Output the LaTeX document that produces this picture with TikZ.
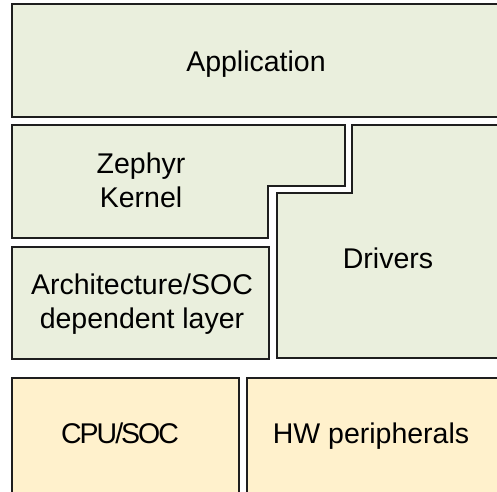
\documentclass[tikz,border=0pt]{standalone}
\usepackage{fontspec}
\setmainfont{Liberation Sans}
\definecolor{greenfill}{HTML}{EAEFDD}
\definecolor{yellowfill}{HTML}{FFF1CC}
\definecolor{edge}{HTML}{1E1E1E}
\tikzset{
  layer/.style={draw=edge, line width=1.6pt, fill=greenfill, line join=miter},
  hwlayer/.style={draw=edge, line width=1.6pt, fill=yellowfill},
  lbl/.style={font=\fontsize{28.5}{34}\selectfont, align=center, inner sep=0pt, anchor=base}
}
\begin{document}
\begin{tikzpicture}[x=1pt,y=-1pt]
\useasboundingbox (0,0) rectangle (497,491);
\clip (0,0) rectangle (497,491);
\fill[white] (0,0) rectangle (497,491);
% Application
\draw[layer] (12,4) rectangle (510,117);
\node[lbl] (app) at (256,71) {Application};
% Zephyr kernel
\draw[layer] (12,125) -- (345,125) -- (345,186) -- (268,186) -- (268,238) -- (12,238) -- cycle;
\node[lbl] (kern) at (141,207) {Zephyr\\Kernel};
% Drivers
\draw[layer] (352,125) -- (510,125) -- (510,358) -- (277,358) -- (277,193) -- (352,193) -- cycle;
\node[lbl] (drv) at (388,268) {Drivers};
% Arch
\draw[layer] (12,247) rectangle (269,359);
\node[lbl] (arch) at (142,328) {Architecture/SOC\\dependent layer};
% Hardware
\draw[hwlayer] (12,378) rectangle (239,500);
\node[lbl, font=\fontsize{28.5}{34}\selectfont\addfontfeature{LetterSpace=-7}] (cpu) at (120,443) {CPU/SOC};
\draw[hwlayer] (247,378) rectangle (510,500);
\node[lbl] (hw) at (371,443) {HW peripherals};
\end{tikzpicture}
\end{document}
